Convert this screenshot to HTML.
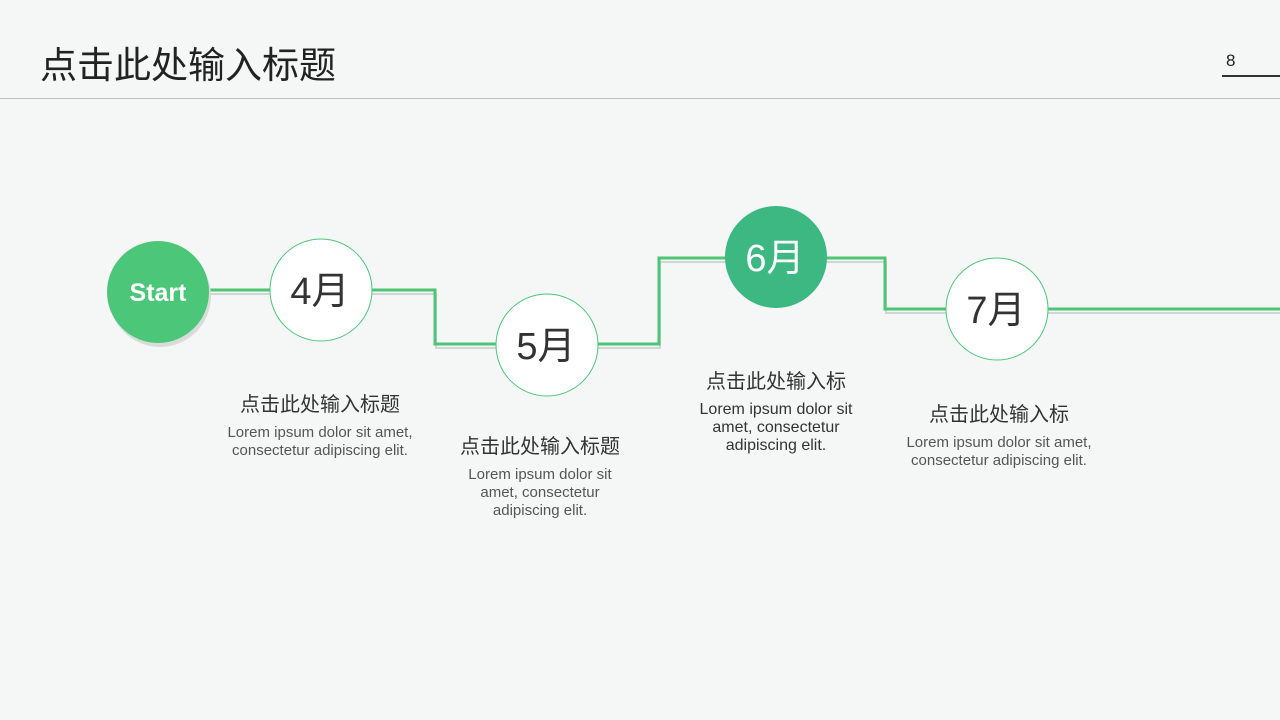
<!DOCTYPE html>
<html><head><meta charset="utf-8"><style>
body{margin:0;width:1280px;height:720px;background:#f5f7f6;font-family:"Liberation Sans","Noto Sans CJK SC",sans-serif;position:relative;overflow:hidden}
.t{position:absolute;text-align:center;color:#333}
.h{font-size:20px;color:#333}
.p{font-size:15px;color:#555;line-height:18px}
</style></head><body>
<div style="position:absolute;left:40px;top:35px;font-size:37px;color:#222">点击此处输入标题</div>
<div style="position:absolute;left:1226px;top:51px;font-size:17px;color:#222">8</div>
<div style="position:absolute;left:1222px;top:75px;width:58px;height:2px;background:#333"></div>
<div style="position:absolute;left:0;top:98px;width:1280px;height:1px;background:#bbb"></div>
<svg width="1280" height="720" style="position:absolute;left:0;top:0">
<g fill="none" stroke="#d0d6d3" stroke-width="2">
<polyline points="210,294 436,294 436,348 660,348 660,262 886,262 886,313 1280,313"/>
</g>
<g fill="none" stroke="#4dc476" stroke-width="3">
<polyline points="210,290 435,290 435,344 659,344 659,258 885,258 885,309 1280,309"/>
</g>
<circle cx="160" cy="296" r="51" fill="#d9ddda"/>
<circle cx="158" cy="292" r="51" fill="#4cc678"/>
<circle cx="321" cy="290" r="51" fill="#fff" stroke="#4cc678"/>
<circle cx="547" cy="345" r="51" fill="#fff" stroke="#4cc678"/>
<circle cx="776" cy="257" r="51" fill="#3db882"/>
<circle cx="997" cy="309" r="51" fill="#fff" stroke="#4cc678"/>
<g font-family="Liberation Sans,Noto Sans CJK SC,sans-serif" text-anchor="middle">
<text x="158" y="301" font-size="25" font-weight="bold" fill="#fff">Start</text>
<text x="320" y="304" font-size="38" fill="#333">4月</text>
<text x="546" y="359" font-size="38" fill="#333">5月</text>
<text x="775" y="271" font-size="38" fill="#fff">6月</text>
<text x="996" y="323" font-size="38" fill="#333">7月</text>
</g>
</svg>
<div class="t" style="left:200px;top:388px;width:240px"><div class="h">点击此处输入标题</div><div class="p" style="margin-top:7px">Lorem ipsum dolor sit amet,<br>consectetur adipiscing elit.</div></div>
<div class="t" style="left:420px;top:430px;width:240px"><div class="h">点击此处输入标题</div><div class="p" style="margin-top:7px">Lorem ipsum dolor sit<br>amet, consectetur<br>adipiscing elit.</div></div>
<div class="t" style="left:656px;top:365px;width:240px"><div class="h">点击此处输入标</div><div class="p" style="margin-top:7px;color:#333;font-size:16px">Lorem ipsum dolor sit<br>amet, consectetur<br>adipiscing elit.</div></div>
<div class="t" style="left:879px;top:398px;width:240px"><div class="h">点击此处输入标</div><div class="p" style="margin-top:7px">Lorem ipsum dolor sit amet,<br>consectetur adipiscing elit.</div></div>
</body></html>
